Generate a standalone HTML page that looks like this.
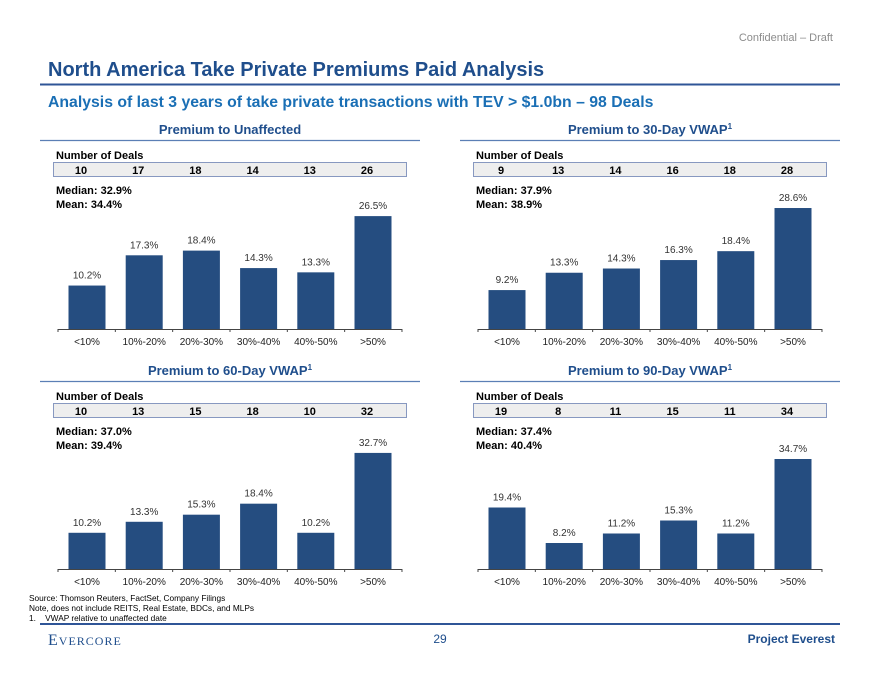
<!DOCTYPE html>
<html><head><meta charset="utf-8">
<style>
body{margin:0;background:#fff;}
svg{display:block;font-family:"Liberation Sans",Arial,sans-serif;}
</style></head>
<body>
<svg id="page" width="880" height="680" viewBox="0 0 880 680">
<text x="833" y="41" font-size="11" fill="#8c8c8c" text-anchor="end">Confidential – Draft</text>
<text x="48" y="76" font-size="20" font-weight="bold" fill="#1f4e8c">North America Take Private Premiums Paid Analysis</text>
<line x1="40" y1="84.5" x2="840" y2="84.5" stroke="#2f5597" stroke-width="2"/>
<text x="48" y="107" font-size="15.8" font-weight="bold" fill="#1a6fb5">Analysis of last 3 years of take private transactions with TEV &gt; $1.0bn – 98 Deals</text>
<g id="charts"></g>
<text x="29" y="601" font-size="8.3" fill="#000">Source: Thomson Reuters, FactSet, Company Filings</text>
<text x="29" y="611" font-size="8.3" fill="#000">Note, does not include REITS, Real Estate, BDCs, and MLPs</text>
<text x="29" y="621" font-size="8.3" fill="#000">1.&#160;&#160;&#160;&#160;VWAP relative to unaffected date</text>
<line x1="40" y1="624" x2="840" y2="624" stroke="#2f5597" stroke-width="2"/>
<text x="48" y="645" font-size="16" fill="#1f4e8c" font-family="Liberation Serif,serif" letter-spacing="1">E<tspan font-size="12">VERCORE</tspan></text>
<text x="440" y="643" font-size="12" fill="#1f4e8c" text-anchor="middle">29</text>
<text x="835" y="643" font-size="12" font-weight="bold" fill="#1f4e8c" text-anchor="end">Project Everest</text>
</svg>
<script>
const categories=["<10%","10%-20%","20%-30%","30%-40%","40%-50%",">50%"];
const titles=["Premium to Unaffected","Premium to 30-Day VWAP","Premium to 60-Day VWAP","Premium to 90-Day VWAP"];
const unaffectedValues=[10.2,17.3,18.4,14.3,13.3,26.5];
const vwap30Values=[9.2,13.3,14.3,16.3,18.4,28.6];
const vwap60Values=[10.2,13.3,15.3,18.4,10.2,32.7];
const vwap90Values=[19.4,8.2,11.2,15.3,11.2,34.7];
const unaffectedDeals=[10,17,18,14,13,26];
const vwap30Deals=[9,13,14,16,18,28];
const vwap60Deals=[10,13,15,18,10,32];
const vwap90Deals=[19,8,11,15,11,34];
const medians=["32.9%","37.9%","37.0%","37.4%"];
const means=["34.4%","38.9%","39.4%","40.4%"];

const NS="http://www.w3.org/2000/svg";
const root=document.getElementById('charts');
function mk(tag,attrs,parent,text){const e=document.createElementNS(NS,tag);for(const k in attrs)e.setAttribute(k,attrs[k]);if(text!==undefined)e.textContent=text;parent.appendChild(e);return e;}
const panels=[
 {ox:0,oy:0,base:329,vals:unaffectedValues,deals:unaffectedDeals,ppu:4.26,sup:false},
 {ox:420,oy:0,base:329,vals:vwap30Values,deals:vwap30Deals,ppu:4.23,sup:true},
 {ox:0,oy:241,base:569,vals:vwap60Values,deals:vwap60Deals,ppu:3.55,sup:true},
 {ox:420,oy:241,base:569,vals:vwap90Values,deals:vwap90Deals,ppu:3.17,sup:true}
];
panels.forEach((p,i)=>{
 const g=mk('g',{},root);
 
 
 const t=mk('text',{x:p.ox+230,y:p.oy+134,'font-size':13,'font-weight':'bold',fill:'#1f4e8c','text-anchor':'middle'},g,titles[i]);
 if(p.sup){mk('tspan',{'font-size':8,dy:-5},t,'1');}
 
 
 const r=mk('line',{x1:p.ox+40,y1:p.oy+140.5,x2:p.ox+420,y2:p.oy+140.5,stroke:'#5b7fb5','stroke-width':1.2},g);
 
 
 const nl=mk('text',{x:p.ox+56,y:p.oy+159,'font-size':11,'font-weight':'bold',fill:'#000'},g,'Number of Deals');
 
 
 const box=mk('rect',{x:p.ox+53.5,y:p.oy+162.5,width:353,height:14,fill:'#eeeeee',stroke:'#8798c0','stroke-width':1},g);
 
 
 const cx=k=>p.ox+87+k*57.2;
 const y=v=>p.base-v*p.ppu;
 p.deals.forEach((d,k)=>{
  const dt=mk('text',{x:cx(k)-6,y:p.oy+174,'font-size':11,'font-weight':'bold',fill:'#000','text-anchor':'middle'},g,String(d));
  
  
 });
 const md=mk('text',{x:p.ox+56,y:p.oy+194,'font-size':11,'font-weight':'bold',fill:'#000'},g,'Median: '+medians[i]);
 
 
 const mn=mk('text',{x:p.ox+56,y:p.oy+208,'font-size':11,'font-weight':'bold',fill:'#000'},g,'Mean: '+means[i]);
 
 
 p.vals.forEach((v,k)=>{
  const b=mk('rect',{x:cx(k)-18.5,y:y(v),width:37,height:p.base-y(v),fill:'#254d80'},g);
  
  
  const l=mk('text',{x:cx(k),y:y(v)-7,'font-size':10,fill:'#333','text-anchor':'middle'},g,v.toFixed(1)+'%');
  
  
  const c=mk('text',{x:cx(k),y:p.base+16,'font-size':10,fill:'#222','text-anchor':'middle'},g,categories[k]);
  
  
 });
 const ax=mk('line',{x1:p.ox+58,y1:p.base+0.5,x2:p.ox+402,y2:p.base+0.5,stroke:'#444','stroke-width':1},g);
 
 
 for(let k=0;k<=6;k++){
  const tx=p.ox+58+k*57.33;
  const tk=mk('line',{x1:tx,y1:p.base,x2:tx,y2:p.base+3,stroke:'#444','stroke-width':1},g);
  
  
 }
});
</script>
</body></html>
